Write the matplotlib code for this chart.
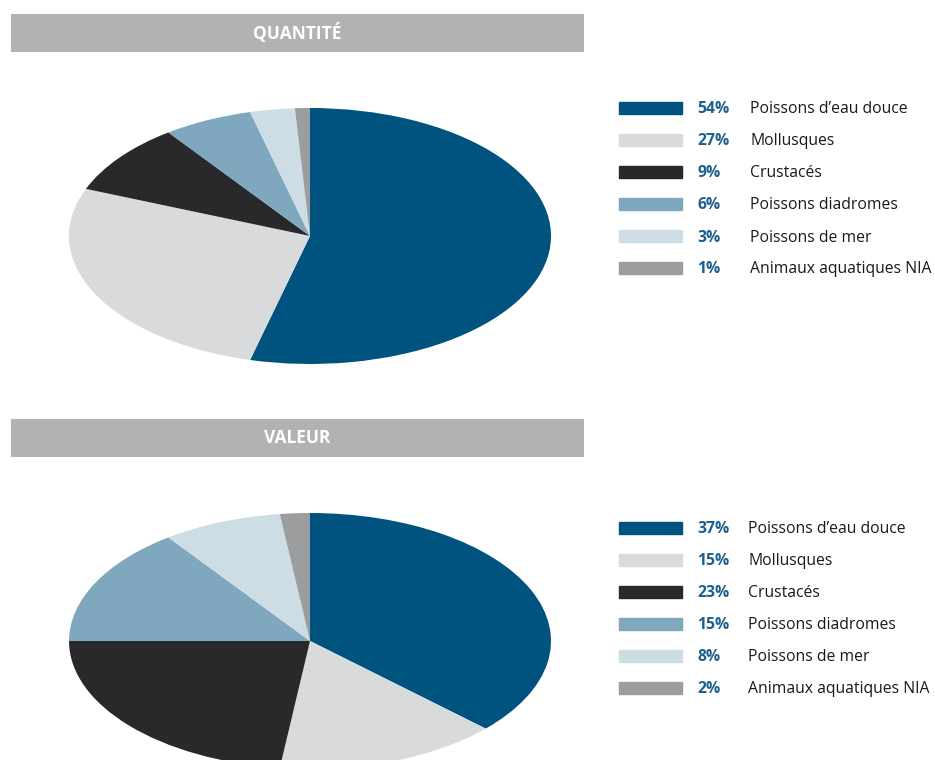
import matplotlib.pyplot as plt

W, H = 935, 760

categories = ['Poissons d\u2019eau douce', 'Mollusques', 'Crustacés',
              'Poissons diadromes', 'Poissons de mer', 'Animaux aquatiques NIA']
quantite = [54, 27, 9, 6, 3, 1]
valeur = [37, 15, 23, 15, 8, 2]
titles = ['QUANTITÉ', 'VALEUR']

colors = ['#00527f', '#d9dadc', '#29292b', '#7fa8bf', '#cddde6', '#9c9d9f']
header_color = '#b1b2b4'
pct_color = '#1d5f8c'

plt.rcParams['font.family'] = ['Open Sans', 'DejaVu Sans']

fig = plt.figure(figsize=(W / 100, H / 100), dpi=100)


def px_axes(x0, y0, x1, y1):
    # axes from pixel box (y measured from the top)
    return fig.add_axes([x0 / W, 1 - y1 / H, (x1 - x0) / W, (y1 - y0) / H])


def block(values, title, top, leg_top, text_x):
    # grey title band
    hax = px_axes(11, top, 584, top + 38)
    hax.set_xlim(0, 1)
    hax.set_ylim(0, 1)
    hax.axis('off')
    hax.add_patch(plt.Rectangle((0, 0), 1, 1, color=header_color))
    hax.text(0.5, 0.5, title, color='white', fontsize=12.5, fontweight='bold',
             ha='center', va='center')

    # stretched pie
    pax = px_axes(69, top + 94, 551, top + 350)
    pax.pie(values, colors=colors, startangle=90, counterclock=False,
            wedgeprops=dict(linewidth=0))
    pax.set_aspect('auto')
    pax.set_xlim(-1, 1)
    pax.set_ylim(-1, 1)
    pax.axis('off')

    # legend
    lax = px_axes(600, leg_top - 20, 935, leg_top + 190)
    lax.set_xlim(600, 935)
    lax.set_ylim(leg_top + 190, leg_top - 20)
    lax.axis('off')
    for i, (v, name) in enumerate(zip(values, categories)):
        y = leg_top + 32 * i
        lax.add_patch(plt.Rectangle((619, y - 6), 63, 12, color=colors[i]))
        lax.text(697, y + 1.5, f'{v}%', color=pct_color, fontsize=11.3,
                 fontweight='bold', va='center', ha='left')
        lax.text(text_x, y + 1.5, name, color='#1a1a1a', fontsize=11.3,
                 va='center', ha='left')


block(quantite, titles[0], 14, 108, 750)
block(valeur, titles[1], 419, 528, 748)

fig.savefig('out.png', dpi=100, facecolor='white')
